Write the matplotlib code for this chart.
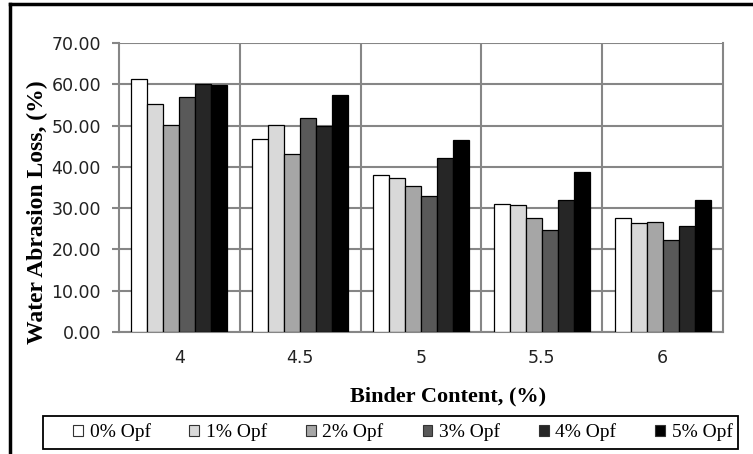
import matplotlib.pyplot as plt
import numpy as np
from matplotlib.lines import Line2D
from matplotlib.patches import Rectangle

# binder content categories and water abrasion loss per fibre content
binder = ["4", "4.5", "5", "5.5", "6"]
opf_labels = ["0% Opf", "1% Opf", "2% Opf", "3% Opf", "4% Opf", "5% Opf"]
opf0 = [61.2, 46.8, 38.0, 30.9, 27.7]
opf1 = [55.3, 50.1, 37.2, 30.7, 26.3]
opf2 = [50.1, 43.0, 35.3, 27.5, 26.6]
opf3 = [56.9, 51.9, 32.9, 24.7, 22.3]
opf4 = [60.1, 49.9, 42.1, 32.0, 25.6]
opf5 = [59.8, 57.5, 46.4, 38.7, 31.9]
series = [opf0, opf1, opf2, opf3, opf4, opf5]
colors = ["#ffffff", "#d9d9d9", "#a6a6a6", "#595959", "#262626", "#000000"]

W, H = 753, 454
fig = plt.figure(figsize=(W / 100, H / 100), dpi=100)
ax = fig.add_axes([119 / W, 1 - 332 / H, (723 - 119) / W, (332 - 43) / H])

x = np.arange(len(binder))
bw = 0.795 / 6
for i, (vals, c, lab) in enumerate(zip(series, colors, opf_labels)):
    ax.bar(x + (i - 2.5) * bw, vals, bw, color=c, edgecolor="black",
           linewidth=0.9, label=lab, zorder=3)

ax.set_xlim(-0.5, len(binder) - 0.5)
ax.set_ylim(0, 70)
ax.set_yticks(np.arange(0, 71, 10))
ax.set_yticklabels([f"{v:.2f}" for v in np.arange(0, 71, 10)],
                   fontsize=12.5, color="#222222")
ax.set_xticks(x)
ax.set_xticklabels(binder, fontsize=12.5, color="#222222")
ax.set_xticks(np.arange(0.5, len(binder) - 0.5), minor=True)
ax.tick_params(axis="x", which="both", length=0, pad=12)
ax.tick_params(axis="y", length=5, color="#868686", width=1.5, pad=8)
ax.grid(axis="y", color="#868686", linewidth=1.5, zorder=0)
ax.grid(axis="x", which="minor", color="#868686", linewidth=1.5, zorder=0)
for s in ax.spines.values():
    s.set_color("#868686")
    s.set_linewidth(1.5)
ax.spines["top"].set_visible(False)

fig.text(37 / W, 1 - 212 / H, "Water Abrasion Loss, (%)", family="Liberation Serif",
         fontweight="bold", fontsize=17, rotation=90, ha="center", va="center")
fig.text(448 / W, 1 - 396 / H, "Binder Content, (%)", family="Liberation Serif",
         fontweight="bold", fontsize=16, ha="center", va="center")

# legend box
fig.add_artist(Rectangle((43 / W, 1 - 449 / H), (738 - 43) / W, 33 / H,
                         transform=fig.transFigure, facecolor="white",
                         edgecolor="black", linewidth=1.3))
leg = fig.legend(loc="center left", ncol=6, frameon=False,
                 bbox_to_anchor=(73 / W, 1 - 432.5 / H),
                 prop={"family": "Liberation Serif", "size": 14},
                 handlelength=0.5, handleheight=0.5, handletextpad=0.35,
                 columnspacing=2.0, borderpad=0, borderaxespad=0)
for h in leg.legend_handles:
    h.set_edgecolor("#333333")
    h.set_linewidth(0.8)

# outer chart border (left and top edges visible)
fig.add_artist(Line2D([10 / W, 10 / W], [0, 1 - 4 / H], color="black",
                      linewidth=2.5, transform=fig.transFigure))
fig.add_artist(Line2D([10 / W, 1], [1 - 4 / H, 1 - 4 / H], color="black",
                      linewidth=2.5, transform=fig.transFigure))

fig.savefig("out.png", dpi=100)
